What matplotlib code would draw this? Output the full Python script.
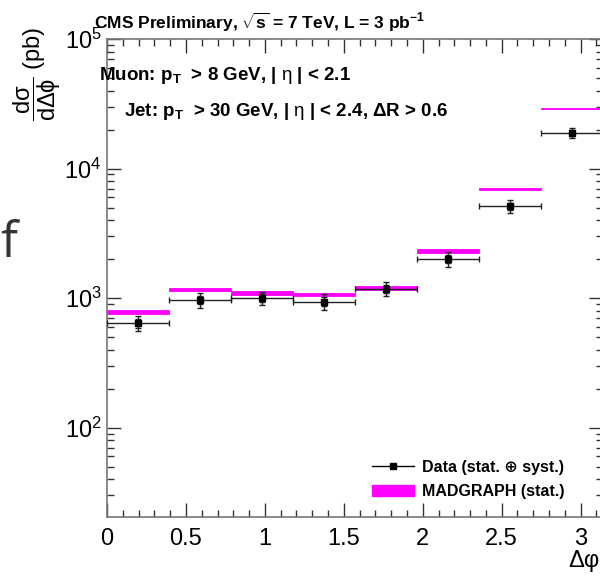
import numpy as np
import matplotlib
matplotlib.use('Agg')
import matplotlib.pyplot as plt
from matplotlib.lines import Line2D
from matplotlib.patches import Patch
from matplotlib.ticker import LogLocator, LogFormatterMathtext, MultipleLocator

plt.rcParams['font.family'] = ['Liberation Sans', 'DejaVu Sans']
plt.rcParams['mathtext.fontset'] = 'custom'
plt.rcParams['mathtext.rm'] = 'Liberation Sans'
plt.rcParams['mathtext.it'] = 'Liberation Sans'
plt.rcParams['mathtext.bf'] = 'Liberation Sans:bold'

# delta phi bins (pi/8 wide)
bin_edges = [0.0, 0.393, 0.785, 1.178, 1.571, 1.963, 2.356, 2.749, 3.1416]

# measured cross section (pb)
data_xsec = [642, 965, 1000, 937, 1180, 2006, 5100, 18900]
data_err_tot = [85, 125, 120, 130, 145, 260, 600, 1800]
data_err_stat = [50, 70, 70, 75, 85, 150, 330, 1000]

# MADGRAPH prediction (pb) and its stat. uncertainty
mg_xsec = [780, 1173, 1093, 1068, 1200, 2300, 6930, 29100]
mg_err = [31, 32, 38, 35, 36, 76, 125, 440]

edges = np.array(bin_edges)
centers = 0.5 * (edges[:-1] + edges[1:])
halfw = 0.5 * (edges[1:] - edges[:-1])

fig = plt.figure(figsize=(6.0, 5.76), dpi=100)
ax = fig.add_axes([107 / 600, 1 - 517 / 576, (603 - 107) / 600, (517 - 39) / 576])

# MADGRAPH bands
for i in range(len(mg_xsec)):
    ax.fill_between([edges[i], edges[i + 1]],
                    mg_xsec[i] - mg_err[i], mg_xsec[i] + mg_err[i],
                    color='#ff00ff', linewidth=0.6, edgecolor='#ff00ff', zorder=2)

# data: total uncertainty + bin width
ax.errorbar(centers, data_xsec, xerr=halfw, yerr=data_err_tot, fmt='none',
            ecolor='#222222', elinewidth=1.0, capsize=2.5, capthick=1.0, zorder=3)
# stat only
ax.errorbar(centers, data_xsec, yerr=data_err_stat, fmt='none',
            ecolor='#222222', elinewidth=1.0, capsize=2.0, capthick=1.0, zorder=3)
ax.plot(centers, data_xsec, 's', color='black', markersize=5, zorder=4)

ax.set_yscale('log')
ax.set_xlim(0, 3.1416)
ax.set_ylim(20.4, 1e5)

ax.xaxis.set_major_locator(MultipleLocator(0.5))
ax.xaxis.set_minor_locator(MultipleLocator(0.1))
ax.yaxis.set_major_locator(LogLocator(base=10, numticks=10))
ax.yaxis.set_minor_locator(LogLocator(base=10, subs=np.arange(2, 10), numticks=20))
ax.yaxis.set_major_formatter(LogFormatterMathtext())
ax.xaxis.set_major_formatter(plt.FuncFormatter(lambda v, p: '%g' % v))

ax.tick_params(which='both', direction='in', top=True, right=True,
               color='#333333', labelsize=17)
ax.tick_params(which='major', length=10, width=1.0)
ax.tick_params(which='minor', length=5, width=1.0)
ax.tick_params(axis='x', pad=8)
ax.tick_params(axis='y', pad=4)
for sp in ax.spines.values():
    sp.set_color('#777777')
    sp.set_linewidth(1.2)

# labels
ax.text(0.992, -0.068, u'Δφ', transform=ax.transAxes, ha='right', va='top', fontsize=17)
fig.text(0.062, 0.953, r'$\mathregular{\dfrac{d\sigma}{d\Delta\phi}}$ (pb)',
         rotation=90, ha='center', va='top', fontsize=17)

fig.text(94 / 600, 1 - 22 / 576,
         r'CMS Preliminary, $\sqrt{\mathbf{s}}$ = 7 TeV, L = 3 pb$^{\mathbf{-1}}$',
         ha='left', va='center', fontsize=12.5, fontweight='bold')
fig.text(99 / 600, 1 - 75 / 576,
         r'Muon: p$_{\mathbf{T}}$  > 8 GeV, | $\eta$ | < 2.1',
         ha='left', va='center', fontsize=13.5, fontweight='bold')
fig.text(124 / 600, 1 - 112 / 576,
         r'Jet: p$_{\mathbf{T}}$  > 30 GeV, | $\eta$ | < 2.4, $\mathbf{\Delta}$R > 0.6',
         ha='left', va='center', fontsize=13.5, fontweight='bold')

# stray glyph at left edge
fig.text(0.0, 1 - 244 / 576, 'f', ha='left', va='center', fontsize=36,
         color='#333333', family='Open Sans')

handles = [Line2D([0], [0], color='black', lw=1.0, marker='s', markersize=4),
           Patch(facecolor='#ff00ff', edgecolor='#ff00ff')]
leg = ax.legend(handles, [u'Data (stat. ⊕ syst.)', 'MADGRAPH (stat.)'],
                loc='upper left', bbox_to_anchor=(372 / 600, 1 - 460 / 576),
                bbox_transform=fig.transFigure, frameon=False,
                prop={'weight': 'bold', 'size': 11.5},
                handlelength=2.6, handletextpad=0.5, labelspacing=0.55,
                borderpad=0, borderaxespad=0)

fig.savefig('out.png', dpi=100)
